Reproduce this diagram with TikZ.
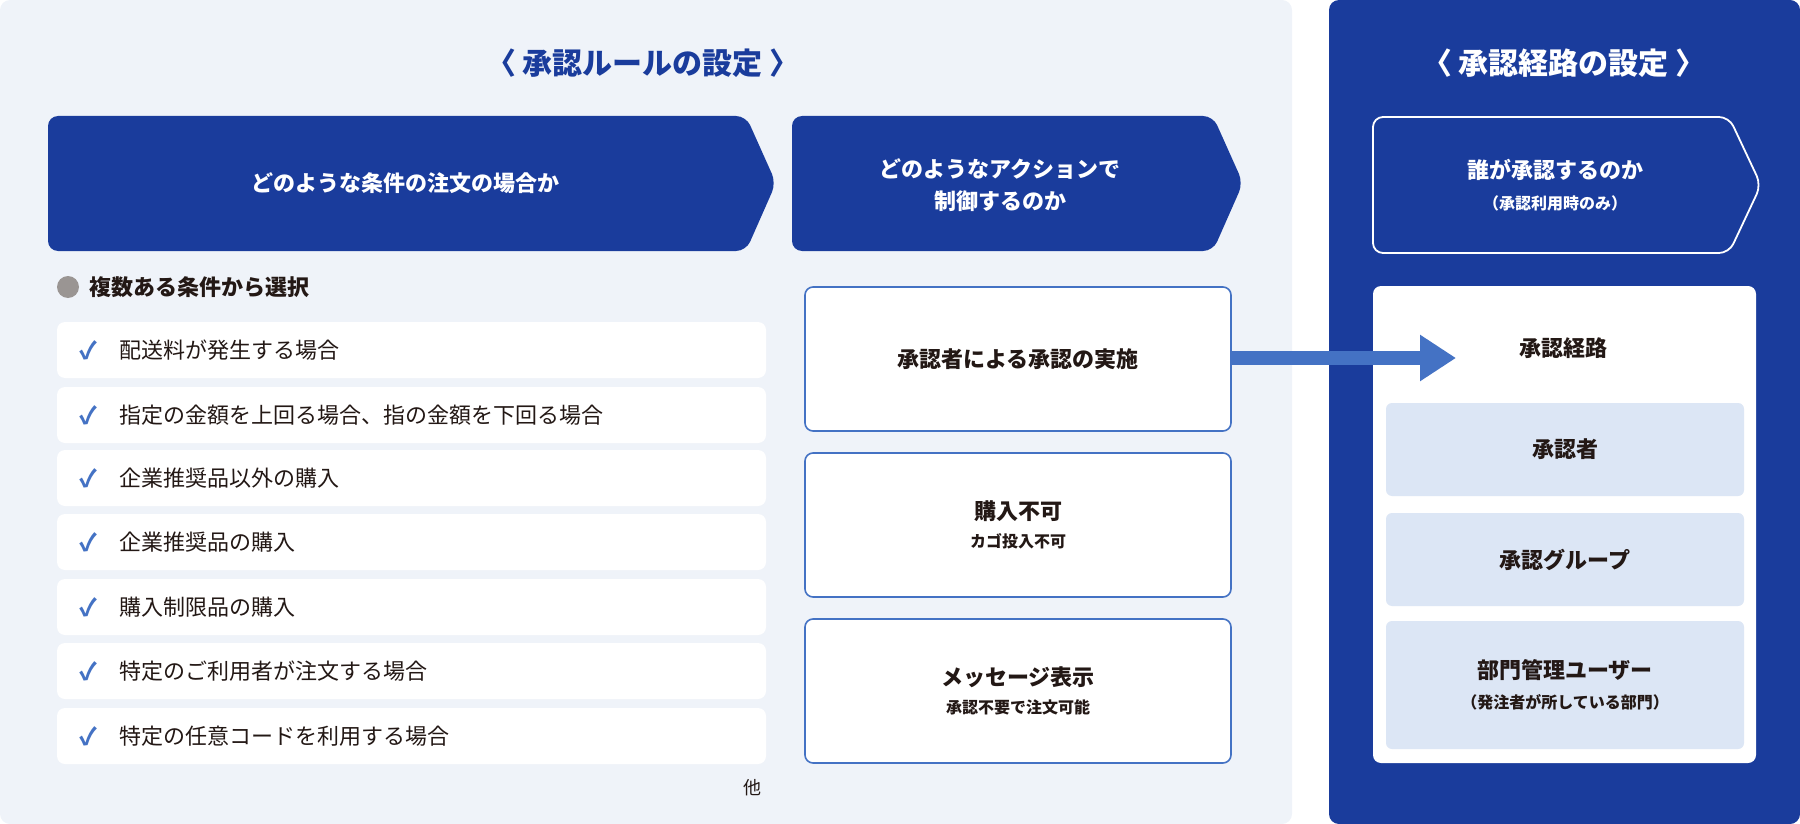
\documentclass[tikz,border=0pt]{standalone}
\usepackage{fontspec}
\setmainfont{Noto Sans CJK JP}
\newfontfamily\jpb{Noto Sans CJK JP Bold}
\usetikzlibrary{arrows.meta}
\definecolor{navy}{HTML}{1A3C9C}
\definecolor{paleb}{HTML}{EFF3F9}
\definecolor{lineb}{HTML}{4472C4}
\definecolor{subb}{HTML}{DCE6F5}
\definecolor{ink}{HTML}{231815}
\definecolor{dotg}{HTML}{9A9593}
\begin{document}
\begin{tikzpicture}[x=0.5pt,y=-0.5pt,
  item/.style={fill=white,rounded corners=4pt},
  itemtxt/.style={anchor=west,text=ink,font=\fontsize{11}{13}\selectfont},
  chk/.style={anchor=west,text=lineb,font=\fontsize{12}{13}\selectfont\bfseries},
  act/.style={draw=lineb,line width=0.8pt,fill=white,rounded corners=4pt,minimum width=213pt,minimum height=72pt},
  sub/.style={fill=subb,rounded corners=3pt,minimum width=179pt,align=center,text=ink},
  hd/.style={text=white,align=center,font=\fontsize{11}{16}\selectfont\bfseries}]
\useasboundingbox (0,0) rectangle (1800,824);
\fill[paleb,rounded corners=5pt] (0,0) rectangle (1292,824);
\fill[navy,rounded corners=5pt] (1329,0) rectangle (1800,824);
\node[text=navy,font=\fontsize{15}{18}\selectfont\bfseries] (t1) at (643,63) {〈 承認ルールの設定 〉};
\node[text=white,font=\fontsize{15}{18}\selectfont\bfseries] (t2) at (1564,63) {〈 承認経路の設定 〉};
% header arrows
\fill[navy,rounded corners=5pt] (48,116) -- (746,116) -- (776,183) -- (746,251) -- (48,251) -- cycle;
\node[hd] (h1) at (405,183) {どのような条件の注文の場合か};
\fill[navy,rounded corners=5pt] (792,116) -- (1213,116) -- (1243,183) -- (1213,251) -- (792,251) -- cycle;
\node[hd] (h2) at (1000,185) {どのようなアクションで\\制御するのか};
\draw[white,line width=0.9pt,rounded corners=5pt] (1373,117) -- (1729,117) -- (1761,185) -- (1729,253) -- (1373,253) -- cycle;
\node[hd] (h3) at (1555,170) {誰が承認するのか};
\node[text=white,font=\fontsize{8}{10}\selectfont\bfseries] (h3s) at (1555,203) {（承認利用時のみ）};
% list
\fill[dotg] (68,287) circle (11);
\node[anchor=west,text=ink,font=\fontsize{11}{13}\selectfont\bfseries] (lh) at (82,287) {複数ある条件から選択};
\foreach \y/\t [count=\i] in {350/配送料が発生する場合,415/指定の金額を上回る場合、指の金額を下回る場合,478/企業推奨品以外の購入,542/企業推奨品の購入,607/購入制限品の購入,671/特定のご利用者が注文する場合,736/特定の任意コードを利用する場合}{
  \fill[item] (57,\y-28) rectangle (766,\y+28);
  \node[chk] (c\i) at (72,\y) {✓};
  \node[itemtxt] (l\i) at (112,\y) {\t};
}
\node[text=ink,font=\fontsize{9}{11}\selectfont] (other) at (752,788) {他};
% actions
\node[act] (a1) at (1018,359) {};
\node[text=ink,font=\fontsize{11}{13}\selectfont\bfseries] at (a1) {承認者による承認の実施};
\node[act] (a2) at (1018,525) {};
\node[text=ink,align=center,font=\fontsize{11}{16}\selectfont\bfseries] at (a2) {購入不可\\[-2pt]{\fontsize{8}{10}\selectfont カゴ投入不可}};
\node[act] (a3) at (1018,691) {};
\node[text=ink,align=center,font=\fontsize{11}{16}\selectfont\bfseries] at (a3) {メッセージ表示\\[-2pt]{\fontsize{8}{10}\selectfont 承認不要で注文可能}};
% right panel
\fill[white,rounded corners=4pt] (1373,286) rectangle (1756,763);
\node[text=ink,font=\fontsize{11}{13}\selectfont\bfseries] (route) at (1563,348) {承認経路};
\coordinate (arrend) at (1456,358);
\draw[lineb,line width=7pt,-{Triangle[length=18pt,width=22pt]}] (a1.east |- arrend) -- (arrend);
\node[sub,minimum height=46.5pt,font=\fontsize{11}{13}\selectfont\bfseries] (s1) at (1565,449.5) {承認者};
\node[sub,minimum height=46.5pt,font=\fontsize{11}{13}\selectfont\bfseries] (s2) at (1565,559.5) {承認グループ};
\node[sub,minimum height=64pt,font=\fontsize{11}{16}\selectfont\bfseries] (s3) at (1565,685) {部門管理ユーザー\\[-1pt]{\fontsize{8}{10}\selectfont （発注者が所している部門）}};
\end{tikzpicture}
\end{document}
